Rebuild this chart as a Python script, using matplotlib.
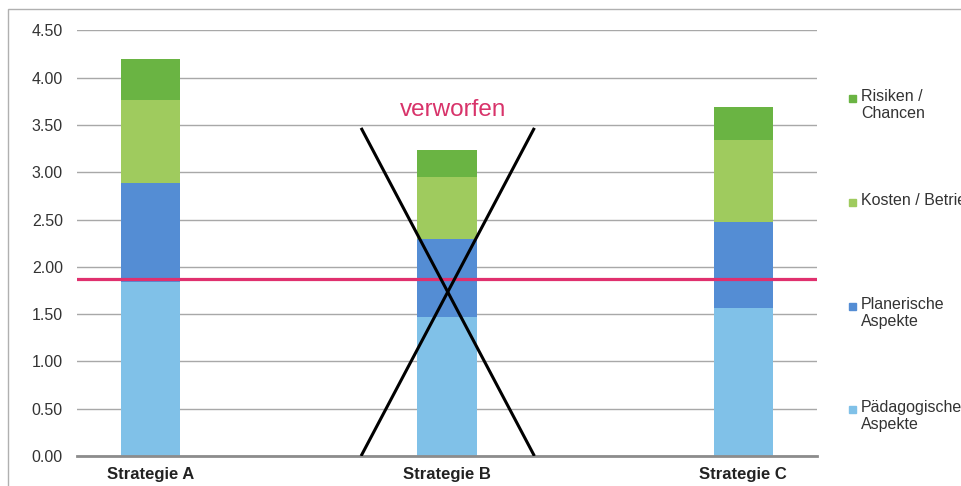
import matplotlib
matplotlib.use("Agg")
import matplotlib.pyplot as plt
from matplotlib.patches import Rectangle
import numpy as np

plt.rcParams['font.family'] = ['Liberation Sans', 'DejaVu Sans']

# data
strategien = ["Strategie A", "Strategie B", "Strategie C"]
paedagogisch = [1.84, 1.47, 1.56]
planerisch = [1.05, 0.82, 0.92]
kosten = [0.87, 0.66, 0.86]
risiken = [0.44, 0.29, 0.35]
serien = ["Pädagogische\nAspekte", "Planerische\nAspekte", "Kosten / Betrieb", "Risiken /\nChancen"]
farben = ["#80c1e8", "#548dd4", "#9fcb5e", "#6ab443"]
schwelle = 1.87
# the cross over strategie B
kreuz_x = [0.71, 1.295]
kreuz_y = [3.47, 0.0]

fig = plt.figure(figsize=(9.61, 4.86), dpi=100)
ax = fig.add_axes([76.7 / 961, 30 / 486, 740.6 / 961, 425.5 / 486])

x = np.arange(len(strategien))
unten = np.zeros(len(strategien))
for werte, farbe in zip([paedagogisch, planerisch, kosten, risiken], farben):
    ax.bar(x, werte, width=0.2, bottom=unten, color=farbe, zorder=2)
    unten = unten + np.array(werte)

ax.axhline(schwelle, color="#e0306e", lw=2.3, zorder=3)

ax.plot(kreuz_x, kreuz_y, color="black", lw=2.2, zorder=4, solid_capstyle="butt")
ax.plot(kreuz_x, kreuz_y[::-1], color="black", lw=2.2, zorder=4, solid_capstyle="butt")
ax.text(1.02, 3.66, "verworfen", color="#d8336a", fontsize=17.5, ha="center", va="center")

ax.set_xlim(-0.25, 2.25)
ax.set_ylim(0, 4.5)
ax.set_yticks(np.arange(0, 4.51, 0.5))
ax.set_yticklabels(["%.2f" % v for v in np.arange(0, 4.51, 0.5)])
ax.set_xticks(x)
ax.set_xticklabels(strategien, fontweight="bold", fontsize=12)
ax.tick_params(axis="y", length=0, pad=10, labelsize=11.5, labelcolor="#333333")
ax.tick_params(axis="x", length=0, pad=8, labelcolor="#222222")
ax.grid(axis="y", color="#a8a8a8", lw=1, zorder=0)
for s in ["top", "right", "left"]:
    ax.spines[s].set_visible(False)
ax.spines["bottom"].set_color("#8c8c8c")
ax.spines["bottom"].set_linewidth(2)
ax.spines["bottom"].set_zorder(3)

# legend, drawn by hand so marker sits at the first text line
# (the reference cuts "Kosten / Betrieb" at the right edge too)
leg_y = [409, 306, 202, 98]
for name, farbe, yp in zip(serien, farben, leg_y):
    fig.patches.append(Rectangle((849 / 961, 1 - (yp + 4) / 486), 7 / 961, 7 / 486,
                                 transform=fig.transFigure, color=farbe, figure=fig))
    fig.text(861 / 961, 1 - (yp - 9) / 486, name, fontsize=11.5, va="top", ha="left",
             color="#333333", linespacing=1.15)

# outer frame of the chart area, cut off right and bottom
fig.patches.append(Rectangle((8 / 961, -0.1), 1.2, 1.1 - 9 / 486, transform=fig.transFigure,
                             fill=False, edgecolor="#b0b0b0", lw=1, figure=fig))

fig.savefig("out.png", dpi=100)
